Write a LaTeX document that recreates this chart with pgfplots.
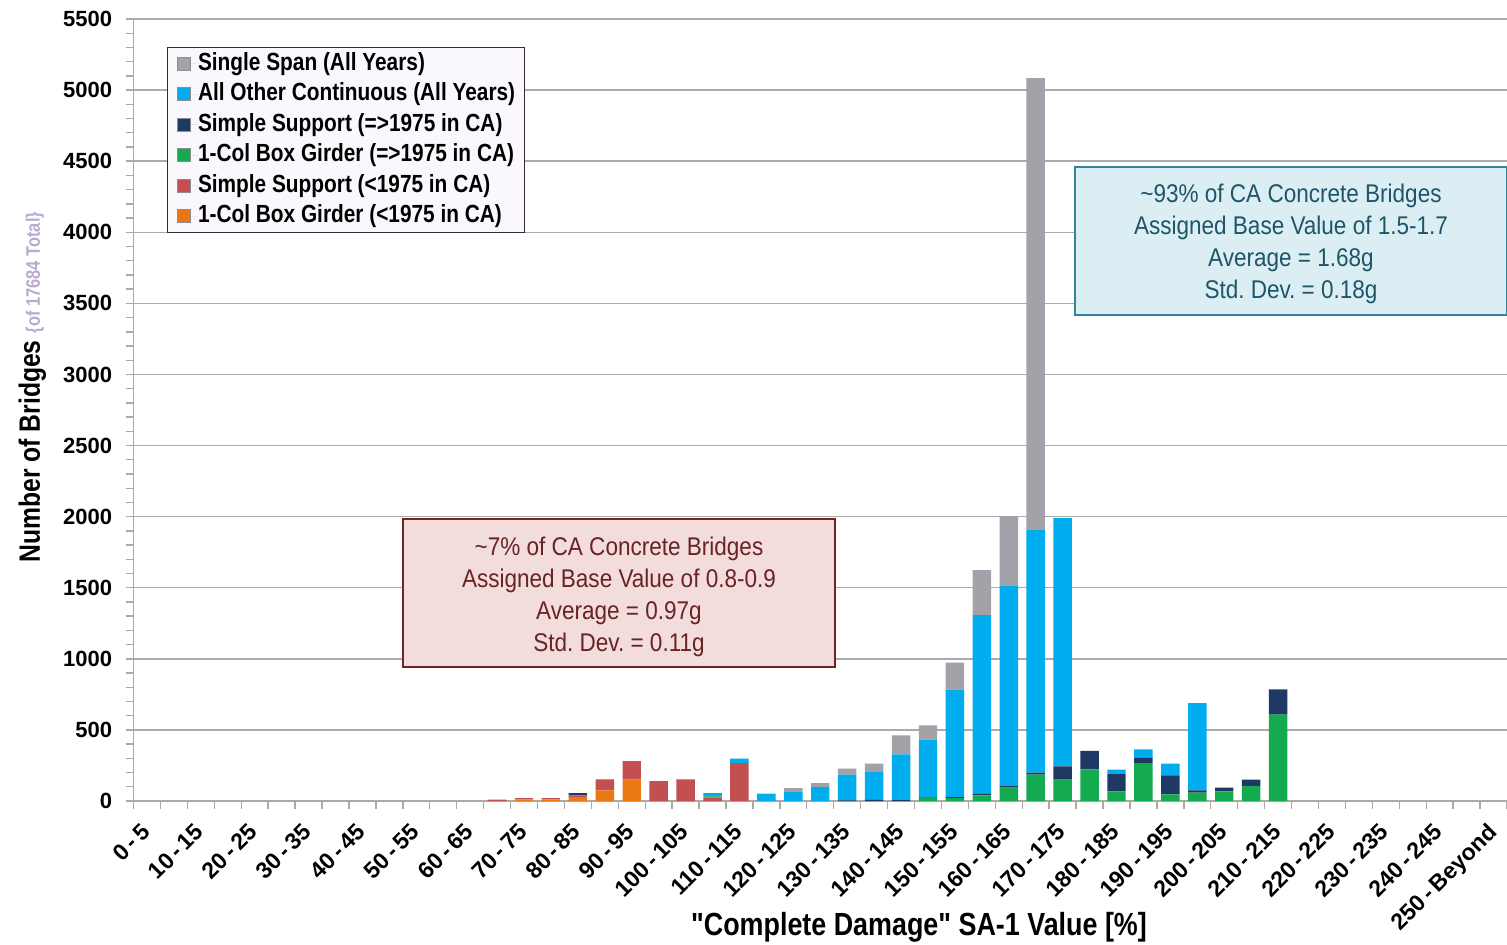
\documentclass[border=0pt]{standalone}
\usepackage{pgfplots}
\pgfplotsset{compat=1.18}
\usepackage{pgfplotstable}
\usepackage{fontspec}
\setmainfont{Liberation Sans}
\newfontfamily\narrow[FakeStretch=0.84]{Liberation Sans}
\newfontfamily\boxfont[FakeStretch=0.88]{Liberation Sans}
\definecolor{cgray}{RGB}{162,162,168}
\definecolor{cblue}{RGB}{0,174,239}
\definecolor{cnavy}{RGB}{30,58,100}
\definecolor{cgreen}{RGB}{20,170,80}
\definecolor{cred}{RGB}{196,79,80}
\definecolor{corange}{RGB}{235,120,20}
\definecolor{gridgray}{RGB}{170,170,170}
\definecolor{lav}{RGB}{185,170,210}
\definecolor{redfill}{RGB}{242,220,220}
\definecolor{redline}{RGB}{115,35,35}
\definecolor{redtext}{RGB}{105,35,35}
\definecolor{bluefill}{RGB}{219,238,244}
\definecolor{blueline}{RGB}{49,133,155}
\definecolor{bluetext}{RGB}{30,85,105}
\definecolor{legfill}{RGB}{250,248,252}
\definecolor{legline}{RGB}{50,40,55}

\pgfplotstableread{
i or rd gr nv bl gy
0 0 0 0 0 0 0
1 0 0 0 0 0 0
2 0 0 0 0 0 0
3 0 0 0 0 0 0
4 0 0 0 0 0 0
5 0 0 0 0 0 0
6 0 0 0 0 0 0
7 0 0 0 0 0 0
8 0 0 0 0 0 0
9 0 0 0 0 0 0
10 0 0 0 0 0 0
11 0 0 0 0 0 0
12 0 0 0 0 0 0
13 0 10 0 0 0 0
14 12 8 0 0 0 0
15 12 8 0 0 0 0
16 28 12 0 15 0 0
17 75 77 0 0 0 0
18 150 131 0 0 0 0
19 0 140 0 0 0 0
20 0 152 0 0 0 0
21 0 25 7 0 24 0
22 0 267 0 0 31 0
23 0 0 0 0 52 0
24 0 0 0 0 63 28
25 0 0 0 0 98 28
26 0 0 0 5 180 42
27 0 0 0 8 196 59
28 0 0 0 10 318 134
29 0 0 20 5 406 101
30 0 0 20 8 755 190
31 0 0 40 10 1258 316
32 0 0 94 10 1408 492
33 0 0 185 14 1707 3178
34 0 0 150 94 1746 0
35 0 0 223 129 0 0
36 0 0 68 124 28 0
37 0 0 267 37 59 0
38 0 0 47 134 82 0
39 0 0 59 16 614 0
40 0 0 68 26 0 0
41 0 0 105 45 0 0
42 0 0 607 178 0 0
43 0 0 0 0 0 0
44 0 0 0 0 0 0
45 0 0 0 0 0 0
46 0 0 0 0 0 0
47 0 0 0 0 0 0
48 0 0 0 0 0 0
49 0 0 0 0 0 0
50 0 0 0 0 0 0
}\data

\begin{document}
\begin{tikzpicture}
\begin{axis}[
  at={(0pt,0pt)}, anchor=south west,
  scale only axis, width=686.75pt, height=391pt,
  ybar stacked, bar width=0.685,
  xmin=-0.5, xmax=50.5, ymin=0, ymax=5500,
  axis x line*=bottom, axis y line*=left,
  axis line style={gridgray, line width=0.8pt},
  ytick={0,500,...,5500}, minor y tick num=4,
  scaled y ticks=false,
  ymajorgrids, major grid style={gridgray, line width=0.75pt},
  xtick={0,2,...,50},
  xticklabels={0\,-\,5, 10\,-\,15, 20\,-\,25, 30\,-\,35, 40\,-\,45, 50\,-\,55, 60\,-\,65, 70\,-\,75, 80\,-\,85, 90\,-\,95, 100\,-\,105, 110\,-\,115, 120\,-\,125, 130\,-\,135, 140\,-\,145, 150\,-\,155, 160\,-\,165, 170\,-\,175, 180\,-\,185, 190\,-\,195, 200\,-\,205, 210\,-\,215, 220\,-\,225, 230\,-\,235, 240\,-\,245, 250\,-\,Beyond},
  minor xtick={-0.5,0.5,...,50.5},
  major x tick style={draw=none},
  tick align=outside, major tick length=4pt, minor tick length=4pt,
  every tick/.append style={gridgray, line width=0.7pt},
  /pgf/number format/assume math mode=true,
  /pgf/number format/1000 sep={},
  yticklabel style={inner sep=0pt, xshift=-6.5pt, font=\bfseries\fontsize{11}{12}\selectfont},
  xticklabel style={xshift=-3.6pt, yshift=-6.3pt, rotate=45, anchor=north east, inner sep=0pt,
    font=\bfseries\fontsize{11.5}{12.5}\selectfont},
  legend cell align=left,
  reverse legend,
  legend image code/.code={\draw[#1,draw=black!45,line width=0.4pt] (0pt,-3.25pt) rectangle (6.5pt,3.25pt);
    \path (0pt,0pt) -- (10.5pt,0pt);},
  legend style={at={(0.0244,0.9642)}, anchor=north west,
    fill=legfill, draw=legline, line width=0.6pt,
    inner xsep=4.5pt, inner ysep=2.3pt,
    font=\narrow\bfseries\fontsize{12.4}{13}\selectfont,
    nodes={inner sep=0pt, text height=9pt, text depth=2.6pt},
    row sep=3.65pt},
]
\addplot[fill=corange, draw=none] table[x=i, y=or] {\data};
\addlegendentry{1-Col Box Girder (<1975 in CA)}
\addplot[fill=cred, draw=none] table[x=i, y=rd] {\data};
\addlegendentry{Simple Support (<1975 in CA)}
\addplot[fill=cgreen, draw=none] table[x=i, y=gr] {\data};
\addlegendentry{1-Col Box Girder (=>1975 in CA)}
\addplot[fill=cnavy, draw=none] table[x=i, y=nv] {\data};
\addlegendentry{Simple Support (=>1975 in CA)}
\addplot[fill=cblue, draw=none] table[x=i, y=bl] {\data};
\addlegendentry{All Other Continuous (All Years)}
\addplot[fill=cgray, draw=none] table[x=i, y=gy] {\data};
\addlegendentry{Single Span (All Years)}
\end{axis}
% annotation boxes
\node[draw=redline, fill=redfill, line width=0.8pt, minimum width=216pt, minimum height=74pt,
  inner sep=0pt] at (242.75pt,104pt) {};
\node[inner sep=0pt, align=center, text=redtext,
  font=\boxfont\fontsize{12.8}{16}\selectfont] at (242.75pt,102pt)
  {\textasciitilde 7\% of CA Concrete Bridges\\Assigned Base Value of 0.8-0.9\\Average = 0.97g\\Std.\ Dev.\ = 0.11g};
\node[draw=blueline, fill=bluefill, line width=0.8pt, minimum width=216pt, minimum height=74pt,
  inner sep=0pt] at (578.75pt,280pt) {};
\node[inner sep=0pt, align=center, text=bluetext,
  font=\boxfont\fontsize{12.8}{16}\selectfont] at (578.75pt,278.5pt)
  {\textasciitilde 93\% of CA Concrete Bridges\\Assigned Base Value of 1.5-1.7\\Average = 1.68g\\Std.\ Dev.\ = 0.18g};
% axis labels
\node[rotate=90, anchor=base west, inner sep=0pt] at (-46.75pt,119pt)
  {{\narrow\bfseries\fontsize{14.7}{15}\selectfont Number of Bridges}\hspace{3.5pt}{\narrow\bfseries\fontsize{9.8}{10}\selectfont\color{lav}\{of 17684 Total\}}};
\node[anchor=base, inner sep=0pt, font=\narrow\bfseries\fontsize{16}{17}\selectfont] at (392.75pt,-67pt)
  {"Complete Damage" SA-1 Value [\%]};
\pgfresetboundingbox
\path[use as bounding box] (-66.75pt,-71.5pt) rectangle (686.75pt,400.5pt);
\end{tikzpicture}
\end{document}
